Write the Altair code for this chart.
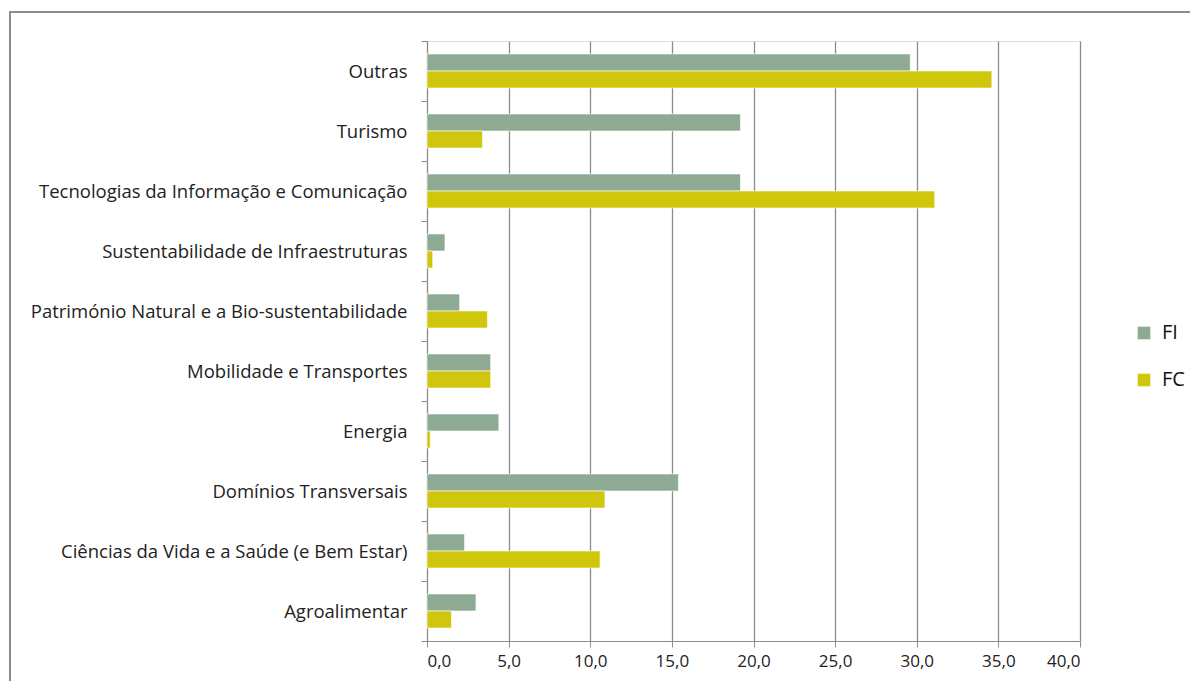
import altair as alt
import pandas as pd

categories = [
    "Outras",
    "Turismo",
    "Tecnologias da Informação e Comunicação",
    "Sustentabilidade de Infraestruturas",
    "Património Natural e a Bio-sustentabilidade",
    "Mobilidade e Transportes",
    "Energia",
    "Domínios Transversais",
    "Ciências da Vida e a Saúde (e Bem Estar)",
    "Agroalimentar",
]
fi_values = [29.6, 19.2, 19.2, 1.1, 2.0, 3.9, 4.4, 15.4, 2.3, 3.0]
fc_values = [34.6, 3.4, 31.1, 0.35, 3.7, 3.9, 0.2, 10.9, 10.6, 1.5]
series = ["FI", "FC"]
colors = ["#8faa93", "#d0c60c"]

rows = []
for c, a, b in zip(categories, fi_values, fc_values):
    rows.append({"cat": c, "serie": "FI", "valor": a})
    rows.append({"cat": c, "serie": "FC", "valor": b})
df = pd.DataFrame(rows)

FONT = "Open Sans"

bars = alt.Chart(df).mark_bar(stroke="white", strokeWidth=0.6).encode(
    y=alt.Y("cat:N", sort=categories,
            scale=alt.Scale(paddingInner=0, paddingOuter=0),
            axis=alt.Axis(title=None, grid=False, tickBand="extent",
                          domainColor="#8c8c8c", tickColor="#8c8c8c",
                          tickSize=6, labelPadding=14, labelFontSize=18.5,
                          labelColor="#222", labelFont=FONT, labelLimit=420)),
    yOffset=alt.YOffset("serie:N", sort=series,
                        scale=alt.Scale(paddingOuter=0.76, paddingInner=0)),
    x=alt.X("valor:Q", scale=alt.Scale(domain=[0, 40], nice=False),
            axis=alt.Axis(title=None, values=[0, 5, 10, 15, 20, 25, 30, 35, 40],
                          labelExpr="replace(format(datum.value, '.1f'), '.', ',')",
                          grid=True, gridColor="#8c8c8c", gridWidth=1.3,
                          domainColor="#8c8c8c", tickColor="#8c8c8c", tickSize=6,
                          labelFontSize=17, labelColor="#222", labelFont=FONT,
                          labelPadding=6)),
    color=alt.Color("serie:N", sort=series,
                    scale=alt.Scale(domain=series, range=colors),
                    legend=alt.Legend(title=None, orient="none", legendX=707,
                                      legendY=282, symbolType="square",
                                      symbolSize=160, symbolStrokeWidth=0,
                                      labelFontSize=20, labelFont=FONT,
                                      labelColor="#111", rowPadding=27,
                                      labelOffset=8)),
)

frame = alt.Chart(pd.DataFrame({"k": [0]})).mark_rect(
    filled=False, stroke="#8c8c8c", strokeWidth=2
).encode(
    x=alt.value(-417), x2=alt.value(820),
    y=alt.value(-29), y2=alt.value(700),
)

chart = alt.layer(frame, bars).properties(
    width=653, height=600,
    autosize=alt.AutoSizeParams(type="none"),
    padding={"left": 419, "top": 33, "right": 110, "bottom": 40},
).configure_view(stroke=None).configure(background="white")

chart.save("out.html", embed_options={"renderer": "svg", "actions": False})
